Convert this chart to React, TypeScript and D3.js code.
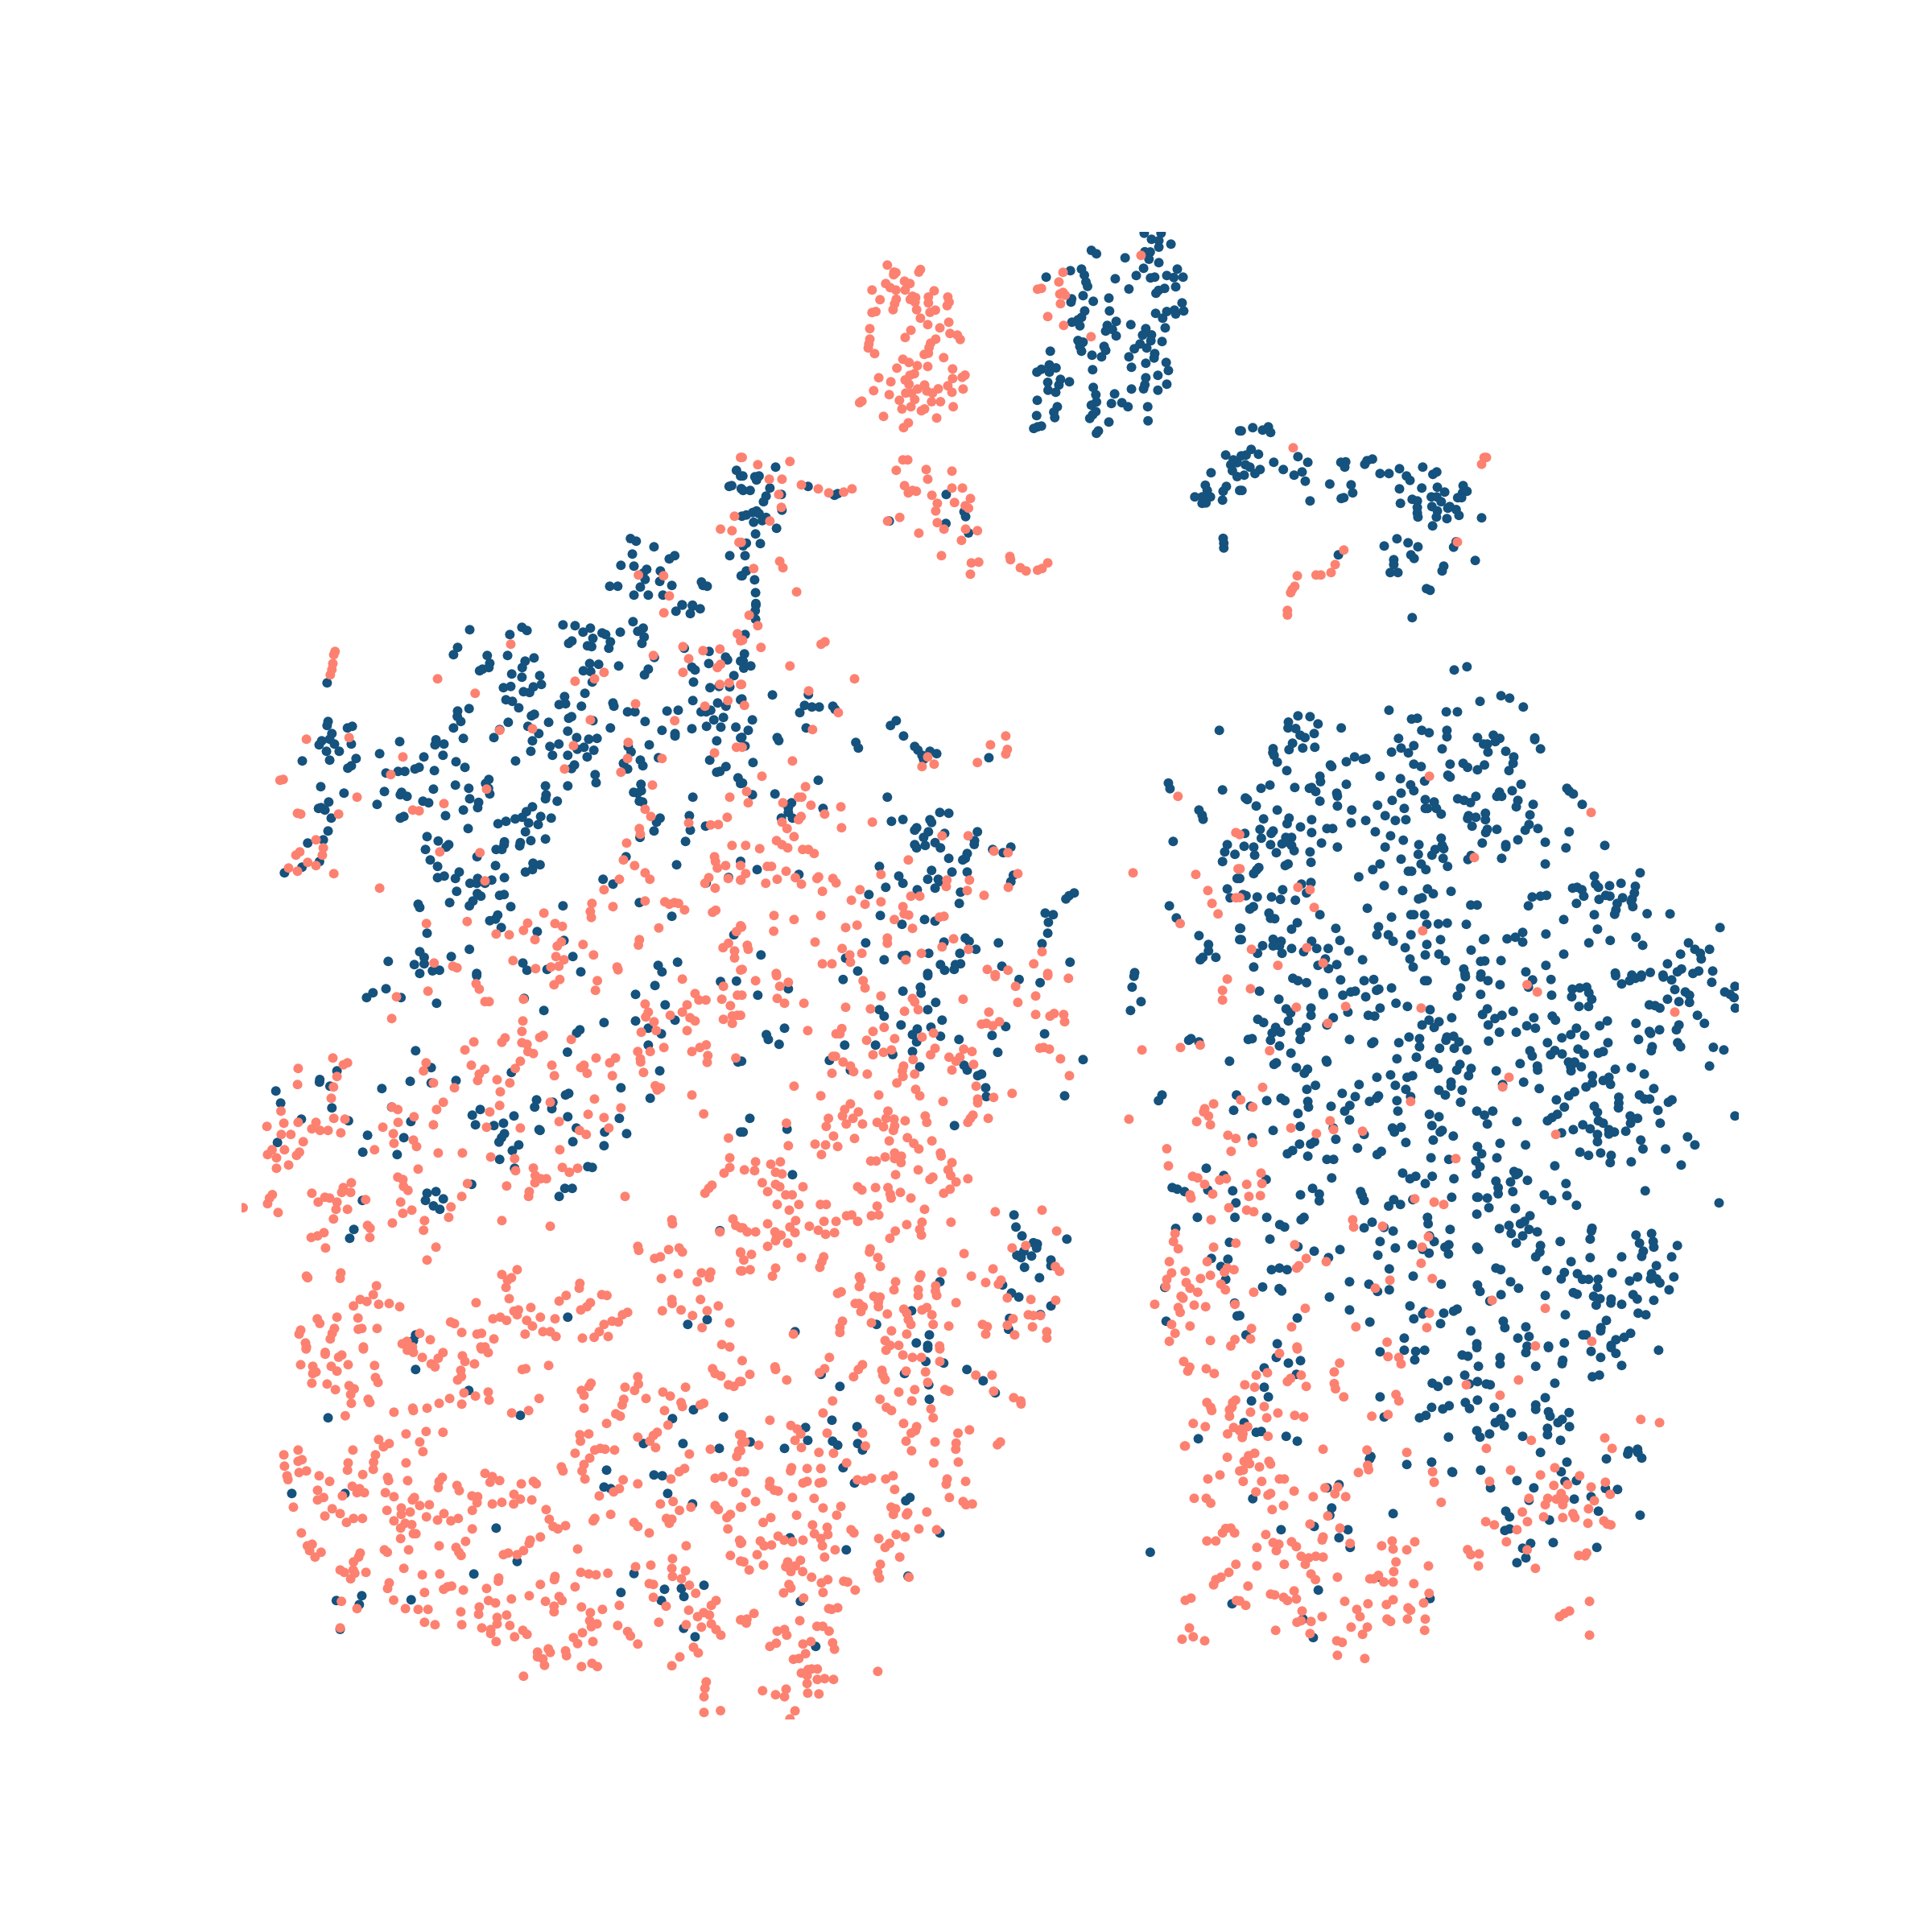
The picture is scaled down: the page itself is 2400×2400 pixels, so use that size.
import React, { useEffect, useRef } from "react";
import * as d3 from "d3";

// points, one list per panel of a 3x4 grid, in panel units (0-1568, 0-1386)
const panelCols = [300, 920, 1540];
const panelRows = [288, 750, 1212, 1674];

const navyA1 = [[1222,1143],[1240,1153],[1296,1174],[1228,1201],[1344,1219],[1361,1207],[1192,1243],[1233,1246],[1273,1258],[1262,1272],[1316,1264],[1268,1295],[1314,1303],[1157,1321],[1182,1321],[1253,1324],[1352,1318],[1445,1305],[1450,1318],[1463,1321],[1233,1354],[1278,1354],[1324,1354],[1384,1390],[1417,1395],[1555,889],[1568,910],[1532,949],[1540,946],[1570,957],[1534,1207],[1572,1060],[1570,1282]];
const salmonA1 = [[1568,841],[1549,1060],[1505,1108],[1541,1114],[1563,1157],[1247,1279],[1326,1282],[1344,1357]];

const navyA2 = [[1102,69],[1118,82],[1208,97],[1268,5],[1321,5],[1291,28],[1314,33],[1314,57],[1352,46],[1270,74],[1287,75],[1283,102],[1314,115],[1266,136],[1243,163],[1036,145],[1071,139],[1080,161],[960,169],[1177,175],[1288,172],[1301,169],[1339,163],[1361,170],[1372,139],[1390,169],[1085,187],[1090,203],[1220,213],[1332,211],[1367,205],[1313,218],[1305,229],[1076,238],[1157,247],[1040,250],[1038,262],[1108,259],[1387,265],[1081,295],[1159,295],[1339,297],[1363,292],[1392,295],[1367,306],[1304,304],[1326,322],[1071,319],[1060,328],[1041,337],[1066,350],[1180,334],[1152,349],[1226,346],[1273,361],[1334,358],[1147,370],[1168,364],[1180,388],[1263,385],[1291,384],[1060,405],[1076,411],[1289,406],[1324,409],[1066,427],[1071,445],[1142,427],[1147,442],[1255,418],[1237,436],[1276,433],[973,445],[1104,460],[1134,466],[1220,466],[1301,454],[1299,470],[1337,487],[1273,490],[970,496],[991,507],[945,512],[931,523],[970,523],[1228,505],[1106,514],[1344,517],[1311,535],[1273,544],[1005,550],[965,561],[1033,559],[1000,571],[1270,570],[1339,568],[1266,585],[1108,580],[966,590],[990,598],[1228,586],[1311,590],[1116,607],[1175,604],[932,628],[1118,634],[1102,646],[1198,637],[1165,640],[1217,652],[1279,652],[995,652],[984,672],[1116,670],[1106,682],[930,685],[987,692],[1097,695],[1157,709],[1280,704],[945,724],[933,727],[921,733],[1124,742],[1118,751],[110,877],[7,910],[45,913],[58,910],[50,925],[92,955],[8,964],[30,964],[80,985],[72,1006],[212,949],[128,979],[295,982],[305,976],[130,1037],[18,1055],[38,1046],[50,1040],[58,1050],[80,1064],[68,1076],[41,1082],[113,1105],[47,1126],[18,1160],[8,1170],[62,1162],[14,1207],[18,1264],[5,1282],[44,1297],[47,1345],[48,1385],[646,979],[702,1043],[707,1061],[645,1087],[467,1078],[716,1122],[1568,742],[1524,832],[1548,850],[1560,860],[1540,868],[1478,898],[1545,890],[1560,912],[1460,944],[1526,949],[1516,967],[1568,964],[1466,964],[1427,988],[1450,988],[1476,988],[1514,1000],[1450,1012],[1462,1010],[1516,1142],[1518,1160],[1518,1178]];
const salmonA2 = [[461,124],[482,150],[488,152],[481,160],[565,140],[560,150],[515,184],[532,193],[456,193],[470,208],[488,217],[517,217],[413,217],[608,220],[438,253],[489,251],[484,268],[479,290],[540,240],[550,245],[533,252],[548,262],[553,290],[590,243],[590,265],[651,243],[655,262],[649,275],[595,300],[612,292],[425,297],[413,301],[565,322],[588,346],[654,337],[626,358],[406,361],[535,367],[517,394],[658,379],[681,385],[690,401],[613,400],[597,415],[592,432],[406,400],[403,418],[401,433],[421,454],[590,452],[577,457],[638,469],[510,475],[529,487],[555,499],[588,502],[491,508],[666,511],[546,529],[532,535],[434,544],[472,559],[517,552],[529,568],[666,547],[696,542],[705,534],[578,571],[651,574],[556,586],[585,593],[621,585],[699,586],[418,592],[519,601],[537,601],[603,601],[664,598],[467,607],[499,628],[547,625],[600,633],[628,633],[381,631],[374,637],[507,660],[535,652],[668,652],[578,660],[568,667],[449,688],[616,694],[527,712],[512,730],[1013,151],[1000,187],[945,211],[933,214],[1258,88],[1013,226],[1003,232],[1020,236],[1005,268],[965,316],[1015,349],[1101,391],[5,841],[54,868],[155,856],[90,922],[130,922],[191,943],[120,979],[244,958],[277,973],[324,970],[350,958],[128,1027],[92,1078],[2,1157],[123,1228],[133,1252],[41,1255],[176,1342],[510,850],[525,850],[489,889],[583,886],[664,892],[588,922],[515,946],[540,964],[552,967],[527,973],[664,955],[697,955],[601,982],[722,994],[618,1012],[672,1009],[706,1021],[716,1030],[613,1040],[462,1078],[500,1064],[618,1084],[639,1108],[707,1108],[744,1114],[560,1123],[694,1150],[631,1207],[725,1234],[748,1231],[722,1276],[846,1210],[848,1222],[879,1252],[897,1264],[933,1261],[947,1255],[965,1234]];

const navyA3 = [[5,742],[41,730],[72,739],[90,727],[97,748],[36,811],[59,829],[5,835],[20,832],[107,859],[183,838],[214,859],[137,886],[18,868],[32,877],[64,886],[48,901],[14,907],[196,895],[171,907],[206,929],[7,964],[221,1003],[318,859],[333,857],[330,877],[393,866],[400,853],[417,847],[283,940],[350,943],[355,973],[327,991],[319,994],[441,901],[469,901],[502,883],[575,877],[524,910],[535,926],[619,895],[607,904],[502,958],[572,955],[621,952],[644,970],[702,946],[714,967],[700,973],[697,991],[685,991],[602,988],[619,988],[633,1006],[542,997],[558,1003],[505,1012],[558,1027],[604,1024],[660,1024],[654,1030],[680,1035],[621,1040],[558,1048],[560,1063],[618,1063],[651,1069],[689,1057],[760,1066],[606,1096],[494,1144],[529,1159],[454,1171],[560,1174],[672,1175],[680,1155],[310,1204],[538,1204],[548,1217],[484,1222],[484,1240],[473,1270],[497,1270],[641,1246],[636,1264],[740,1225],[587,1330],[598,1336]];
const salmonA3 = [[168,805],[775,841],[768,841],[760,866],[684,1156],[327,1186],[300,1240],[287,1270],[181,1282],[240,1279],[255,1279],[173,1321],[165,1333],[160,1345]];

const navyB1 = [[1385,5],[1417,5],[1365,28],[1410,37],[1441,19],[717,97],[843,115],[881,88],[897,100],[1010,79],[1048,82],[1073,106],[1096,91],[1133,109],[1144,115],[1190,106],[1230,67],[1262,91],[1245,103],[1265,124],[1104,129],[1159,142],[1258,148],[1154,166],[1087,157],[1100,160],[1028,148],[1038,139],[1391,166],[1469,178],[1297,200],[1468,223],[1521,199],[1527,209],[1568,214],[679,163],[666,190],[772,193],[836,193],[919,202],[891,214],[780,222],[882,238],[748,250],[757,244],[777,238],[1094,223],[1122,226],[1185,232],[1074,250],[1097,253],[1278,244],[1266,265],[1415,236],[1425,247],[849,262],[881,274],[937,268],[1547,268],[1102,292],[1420,292],[823,313],[846,308],[917,310],[942,301],[886,328],[905,331],[1472,313],[1500,308],[1534,310],[1079,334],[1015,346],[831,358],[851,364],[1418,361],[1568,358],[1167,370],[1170,382],[998,376],[1018,373],[1068,382],[871,388],[679,400],[715,391],[1496,370],[1522,382],[678,420],[1337,400],[1372,397],[1213,403],[1236,403],[1444,403],[1460,403],[1474,397],[911,418],[920,412],[689,439],[1028,427],[1037,421],[1104,436],[1268,439],[1484,433],[1514,424],[838,442],[965,442],[900,457],[1461,457],[1506,460],[1553,460],[666,463],[811,469],[1025,475],[1159,463],[1321,472],[1415,466],[1362,484],[1362,493],[934,484],[697,502],[793,499],[1053,499],[1091,505],[1117,502],[1568,500],[914,511],[1493,511],[497,514],[611,507],[608,526],[636,523],[969,532],[997,523],[1215,532],[1281,526],[1224,552],[1055,542],[1076,535],[1107,546],[909,550],[977,565],[1025,565],[1086,571],[434,559],[573,571],[633,565],[1310,574],[861,586],[1253,583],[1471,583],[674,589],[702,610],[1200,595],[1046,601],[1037,614],[1261,604],[1213,616],[1522,607],[1503,625],[1493,628],[545,616],[558,610],[606,622],[454,631],[492,625],[513,625],[1111,637],[1114,667],[1560,649],[1568,670],[955,679],[1025,679],[1255,673],[672,676],[714,688],[777,655],[767,670],[776,688],[603,691],[449,700],[503,703],[499,712],[520,718],[1256,697],[1232,703],[1244,706],[780,709],[957,712],[955,727],[717,727],[1418,721],[745,740],[570,736],[588,742],[992,736],[1250,736],[1260,739],[426,748],[742,760],[914,757],[697,769],[895,775],[1315,799],[1304,814],[1407,790],[641,790],[882,796],[860,802],[940,793],[973,799],[510,793],[499,799],[831,811],[806,820],[902,817],[932,823],[1458,829],[712,838],[1296,847],[1410,844],[892,850],[583,868],[1252,871],[618,884],[955,877],[909,883],[1395,886],[651,898],[643,907],[826,887],[825,898],[876,890],[874,902],[578,916],[800,916],[818,916],[740,943],[593,955],[1208,943],[1367,973],[1568,960],[798,976],[616,979],[916,967],[938,973],[914,991],[892,1000],[684,1000],[616,1021],[637,1015],[672,1024],[826,1021],[786,1030],[718,1042],[739,1042],[742,1024],[765,1042],[1136,1027],[1167,1045],[1530,1020],[1460,1040],[676,1072],[741,1080],[752,1090],[811,1087],[825,1084],[727,1108],[716,1126],[654,1114],[555,1120],[560,1132],[846,1129],[1250,1114],[1010,1126],[1352,1165],[805,1160],[798,1175],[780,1181],[816,1207],[583,1228],[929,1222],[1547,1234],[1013,1255],[716,1288],[560,1297],[574,1318],[659,1315],[461,1333],[1041,1315],[543,1345],[574,1342],[884,1339],[1309,1348],[1370,1336],[600,1368],[622,1366],[897,1366],[960,1363],[1066,1372],[1321,1372],[560,1378],[739,1378],[191,586],[249,682],[322,706],[274,739],[242,763],[250,760],[262,769],[282,799],[272,847],[257,880],[208,892],[245,961],[190,982],[135,1003],[269,295],[272,439],[269,454],[333,463],[348,457],[284,484],[252,511],[277,505],[244,526],[292,523],[345,523],[267,550],[307,550],[277,583],[360,577],[345,604],[334,613]];
const salmonB1 = [[1327,34],[846,151],[1387,160],[1450,175],[1503,169],[1294,193],[1405,205],[1558,112],[1568,138],[1505,226],[1495,238],[1387,256],[1139,256],[616,280],[1109,280],[1048,289],[1503,301],[1532,295],[1568,301],[734,334],[1528,361],[1238,373],[1456,382],[1096,433],[1361,436],[914,466],[811,472],[338,499],[204,505],[1215,517],[1555,535],[1043,529],[1486,556],[507,571],[1321,577],[1213,577],[1015,616],[1192,628],[469,637],[121,658],[131,655],[1291,676],[770,691],[363,721],[1534,721],[636,745],[538,769],[558,772],[1268,766],[176,781],[186,784],[305,784],[1286,793],[1526,796],[1405,817],[1474,824],[1498,823],[1250,838],[1253,859],[234,880],[1210,892],[1541,901],[257,910],[183,925],[171,937],[254,937],[623,925],[749,928],[1486,943],[1489,961],[1200,955],[208,964],[1521,976],[234,976],[1495,985],[1568,976],[148,985],[176,997],[1235,976],[1268,1003],[290,1006],[1283,1027],[1187,1027],[1468,1021],[1529,1024],[1568,1030],[1456,1042],[434,1060],[1139,1066],[765,1033],[1488,1060],[1268,1108],[1330,1111],[1344,1120],[1360,1114],[1373,1117],[1392,1141],[1101,1117],[1167,1129],[1096,1147],[1099,1169],[1490,1142],[1480,1150],[950,1153],[709,1184],[581,1192],[899,1190],[985,1192],[1008,1202],[1311,1208],[886,1217],[800,1231],[841,1234],[1568,1200],[1555,1222],[922,1252],[1250,1252],[1005,1260],[992,1276],[1247,1272],[1073,1270],[1530,1265],[1513,1282],[1549,1294],[1549,1320],[1106,1309],[988,1315],[1013,1327],[853,1330],[605,1339],[664,1351],[677,1357],[924,1360],[972,1354],[997,1351],[1180,1354],[1183,1364],[1568,1365],[294,178],[290,190],[287,223],[284,245],[279,265]];

const navyB2 = [[48,5],[46,26],[47,58],[14,115],[12,187],[8,214],[10,240],[32,232],[100,340],[213,338],[4,355],[201,379],[224,385],[247,385],[290,382],[297,394],[186,406],[37,433],[24,472],[206,463],[4,498],[115,499],[120,510],[14,530],[362,517],[370,538],[489,436],[471,454],[512,493],[547,532],[557,545],[595,550],[616,559],[570,565],[575,580],[780,574],[39,592],[244,658],[6,668],[37,712],[108,709],[461,721],[160,742],[150,760],[150,778],[163,799],[128,799],[259,763],[626,778],[654,781],[474,811],[510,804],[595,805],[600,815],[553,835],[547,844],[641,856],[590,850],[744,850],[575,871],[735,883],[734,897],[611,890],[547,898],[580,901],[553,910],[628,910],[792,916],[849,907],[825,928],[712,931],[654,949],[706,949],[698,955],[436,979],[600,994],[664,1000],[712,1000],[52,991],[183,1009],[497,1015],[588,1027],[621,1027],[625,1035],[510,1042],[857,1012],[849,1036],[456,1057],[555,1066],[611,1060],[403,1084],[691,1075],[1048,1078],[1032,1088],[1022,1100],[687,1117],[957,1153],[982,1159],[967,1187],[439,1162],[578,1177],[611,1183],[507,1195],[965,1228],[706,1246],[718,1258],[639,1261],[393,1264],[810,1264],[947,1267],[739,1288],[64,1309],[689,1303],[508,1312],[520,1310],[591,1303],[330,1321],[451,1327],[628,1345],[691,1342],[675,1345],[1035,1336],[821,1351],[368,1369],[641,1366],[671,1363],[588,1378],[1238,1375],[1347,1126],[1369,1171],[1440,1237],[1470,1270],[1470,1294],[1493,1318],[1452,1318],[1444,1327],[1344,668],[1349,689],[1514,694],[1504,472],[1440,769],[1450,788],[1453,803],[1359,886],[1529,898],[1521,925],[1553,934],[1514,961],[1560,1024],[1529,1063],[1538,1096],[1568,1210],[1568,1252]];
const salmonB2 = [[27,43],[54,82],[6,136],[265,142],[253,151],[64,163],[155,232],[358,280],[3,301],[214,325],[12,379],[307,406],[226,469],[5,535],[833,493],[785,526],[838,543],[833,560],[588,571],[570,607],[608,598],[744,592],[163,586],[67,643],[204,682],[182,721],[192,721],[19,700],[133,742],[24,742],[221,751],[315,757],[264,784],[190,793],[182,805],[130,814],[146,838],[317,835],[414,814],[168,868],[633,865],[715,865],[113,883],[130,898],[148,910],[16,901],[60,913],[195,916],[213,916],[231,931],[796,922],[840,928],[527,955],[84,979],[97,979],[143,997],[16,1006],[1,1030],[441,1009],[871,1006],[172,1021],[115,1027],[245,1018],[240,1024],[290,1024],[300,1040],[79,1042],[191,1045],[719,1030],[648,1030],[646,1054],[375,1066],[257,1072],[841,1057],[712,1069],[765,1087],[535,1090],[563,1090],[348,1105],[441,1111],[391,1120],[510,1129],[514,1156],[528,1160],[105,1162],[252,1162],[168,1177],[483,1177],[625,1168],[639,1165],[366,1198],[330,1207],[540,1210],[3,1205],[104,1220],[461,1246],[461,1265],[669,1249],[234,1261],[21,1273],[24,1288],[319,1285],[633,1279],[716,1288],[381,1303],[343,1309],[568,1303],[947,1297],[519,1327],[345,1336],[257,1342],[287,1342],[921,1342],[840,1366],[775,1363],[5,1363],[112,1378],[800,1382],[965,1378],[1430,1009],[1233,1003],[1374,718],[1468,1069],[1481,1117],[1500,1156],[1381,1192],[1556,853],[1563,988],[1556,1096]];

const navyB3 = [[542,52],[714,235],[674,247],[821,343],[848,352],[755,364],[891,385],[469,397],[649,403],[684,403],[183,418],[221,421],[540,430],[558,427],[153,441],[246,448],[152,463],[176,465],[319,463],[572,472],[595,481],[651,472],[651,496],[234,484],[190,490],[205,499],[499,502],[747,499],[797,490],[817,502],[803,514],[927,500],[927,506],[166,520],[766,523],[778,523],[547,529],[105,540],[155,544],[198,538],[236,535],[507,538],[636,541],[945,541],[477,553],[530,556],[104,555],[108,565],[780,553],[836,550],[118,590],[361,571],[335,589],[388,580],[396,577],[861,571],[859,595],[285,601],[289,607],[547,598],[570,607],[661,598],[702,595],[716,610],[747,619],[769,601],[148,622],[846,622],[441,643],[252,643],[505,652],[654,639],[661,646],[254,663],[581,661],[335,673],[537,675],[884,673],[95,676],[67,688],[173,685],[219,688],[226,685],[239,700],[547,697],[856,697],[1028,688],[1035,698],[1048,709],[305,706],[307,717],[507,706],[816,702],[808,718],[823,718],[742,718],[18,724],[24,730],[685,727],[705,733],[725,741],[583,730],[611,739],[479,733],[874,733],[252,736],[52,754],[307,754],[922,748],[869,757],[1076,748],[433,751],[517,763],[583,763],[590,763],[618,763],[118,769],[352,769],[633,784],[772,781],[912,787],[457,790],[719,790],[742,796],[716,800],[772,805],[75,802],[155,799],[226,805],[489,808],[522,805],[396,808],[149,820],[350,817],[909,823],[730,829],[191,832],[274,838],[292,838],[64,841],[105,847],[99,856],[426,850],[778,841],[808,841],[937,838],[897,844],[773,853],[226,853],[1035,850],[16,856],[474,865],[145,871],[163,871],[68,874],[633,874],[874,880],[514,881],[960,889],[762,892],[257,892],[97,898],[133,895],[155,890],[563,898],[836,898],[836,906],[1147,901],[14,904],[44,907],[163,901],[307,907],[636,901],[457,907],[614,916],[641,913],[1025,910],[171,920],[221,925],[115,928],[47,937],[561,934],[604,937],[727,938],[507,952],[639,949],[823,949],[717,953],[224,964],[152,970],[143,976],[441,970],[570,970],[653,979],[960,970],[60,983],[53,992],[44,1006],[418,991],[585,991],[530,997],[540,997],[374,1018],[0,1024],[1114,1015],[1258,1003],[224,1039],[194,1045],[454,1051],[1118,1045],[1127,1057],[1162,1051],[1198,1042],[1046,1060],[1060,1057],[1075,1066],[1243,1053],[590,1063],[135,1066],[512,1069],[664,1072],[608,1081],[210,1078],[10,1084],[20,1088],[1081,1090],[1240,1078],[964,1087],[945,1090],[919,1093],[55,1093],[100,1093],[1150,1087],[1163,1090],[128,1102],[175,1105],[1129,1102],[1203,1096],[1233,1100],[573,1096],[562,1100],[1058,1117],[1186,1117],[1230,1110],[726,1123],[746,1123],[907,1126],[1235,1129],[43,1129],[32,1138],[401,1135],[1182,1141],[92,1153],[252,1159],[538,1159],[547,1159],[581,1159],[1114,1159],[1178,1157],[1280,1155],[1352,1156],[97,1172],[110,1174],[477,1168],[1018,1177],[181,1189],[588,1195],[624,1193],[652,1190],[712,1195],[436,1204],[3,1210],[163,1213],[302,1210],[1124,1213],[1509,1207],[431,1234],[467,1234],[538,1234],[962,1231],[889,1225],[866,1243],[840,1249],[889,1261],[770,1249],[766,1252],[5,1252],[226,1258],[315,1255],[631,1252],[1164,1255],[105,1250],[130,1258],[482,1258],[1245,1243],[1097,1264],[105,1275],[125,1275],[588,1270],[72,1274],[1266,1273],[1410,1264],[163,1285],[242,1285],[278,1285],[520,1282],[1430,1288],[1476,1288],[343,1294],[201,1297],[727,1291],[56,1303],[133,1303],[1447,1303],[583,1309],[626,1306],[1018,1306],[1385,1306],[269,1324],[386,1327],[535,1324],[646,1330],[757,1333],[770,1331],[821,1330],[1450,1324],[246,1348],[305,1345],[44,1354],[545,1354],[962,1348],[1344,1342],[279,1360],[704,1361],[899,1372],[1486,1369],[1388,1361],[1375,1372],[1442,1369],[1180,1376],[1290,1374],[1232,1384],[1262,1384],[1424,1378],[1330,1384],[708,1380],[758,1380]];
const salmonB3 = [[150,25],[150,42],[596,643],[1104,778],[737,946],[0,860],[1,988],[183,1057],[221,1066],[234,1132],[575,1219],[211,1282],[37,1288],[120,1348],[262,1339],[0,1095]];

const navyC1 = [[454,49],[413,64],[393,82],[501,82],[613,103],[739,0],[888,85],[1299,37],[1238,70],[1505,22],[1555,20],[950,130],[1331,109],[1139,175],[1238,169],[1362,166],[1278,196],[1319,217],[1063,202],[1053,214],[1024,285],[547,280],[1278,259],[596,343],[300,355],[848,361],[1314,355],[246,387],[245,397],[530,394],[278,412],[441,421],[596,400],[674,391],[108,430],[1192,418],[123,475],[1284,457],[927,463],[921,490],[975,496],[978,472],[1018,445],[1028,439],[472,490],[284,493],[750,499],[725,520],[856,523],[1025,526],[188,535],[336,541],[532,544],[735,556],[793,559],[823,550],[1187,532],[1052,568],[935,574],[938,577],[826,589],[1141,583],[396,595],[817,604],[809,620],[510,604],[1210,589],[113,622],[871,631],[1041,619],[1139,634],[851,652],[381,658],[489,667],[811,685],[858,718],[1088,712],[1102,715],[723,778],[1016,793],[1039,793],[583,811],[611,805],[634,832],[578,838],[380,838],[603,858],[623,871],[998,823],[353,946],[340,979],[1503,950],[1568,583],[1560,322],[1025,1273],[1463,1282],[1402,1300],[547,1339],[540,1360]];
const salmonC1 = [[737,30],[747,50],[1000,14],[982,34],[1118,19],[1112,55],[586,58],[487,79],[1385,13],[1514,40],[1425,67],[1509,88],[1558,73],[1437,91],[1459,91],[765,97],[778,97],[886,88],[1400,109],[1268,106],[1536,112],[1278,136],[1385,136],[1270,154],[1347,148],[1409,157],[1296,172],[1425,169],[1514,163],[1542,150],[1558,148],[1542,178],[472,160],[884,169],[1400,205],[1256,211],[1303,205],[881,208],[948,223],[937,230],[1036,238],[828,232],[818,248],[730,247],[702,277],[881,250],[897,256],[900,283],[917,290],[1327,268],[1245,283],[1284,283],[1415,283],[1440,268],[1460,258],[1465,298],[1463,323],[1253,310],[1254,322],[1553,307],[287,307],[333,325],[320,332],[1114,307],[1175,307],[1157,325],[876,319],[722,334],[975,334],[1076,334],[1066,343],[580,325],[572,355],[764,349],[860,346],[178,346],[1086,364],[747,367],[1263,361],[300,376],[983,373],[1165,373],[742,391],[803,388],[843,400],[603,400],[176,406],[289,415],[669,418],[1300,410],[1316,418],[1306,426],[813,433],[282,457],[1415,445],[634,472],[1109,460],[970,472],[811,484],[124,505],[473,490],[491,499],[613,499],[1192,493],[1089,517],[780,508],[1452,515],[290,532],[325,535],[542,526],[1139,529],[234,547],[133,550],[178,547],[492,547],[998,544],[603,556],[80,562],[221,571],[247,577],[272,577],[444,565],[770,565],[876,568],[1154,568],[1062,577],[312,586],[477,589],[125,592],[155,592],[1083,592],[540,613],[1530,605],[194,619],[479,625],[550,637],[96,649],[135,649],[418,649],[1000,649],[182,658],[173,670],[82,667],[110,679],[618,661],[694,661],[783,676],[858,682],[1534,679],[110,718],[148,706],[555,721],[917,717],[1008,715],[1534,715],[861,727],[1056,718],[1030,733],[1516,736],[491,751],[923,745],[507,760],[345,772],[940,757],[958,757],[922,772],[710,775],[509,785],[523,800],[320,790],[833,784],[1478,781],[1468,793],[221,811],[315,808],[343,808],[1456,811],[97,816],[88,829],[262,826],[277,829],[904,805],[902,823],[390,835],[692,823],[82,850],[241,844],[300,844],[500,844],[1205,823],[5,865],[658,862],[297,871],[333,871],[535,874],[115,883],[507,886],[289,907],[651,901],[575,913],[474,922],[818,913],[1352,910],[1354,925],[396,931],[404,941],[970,934],[1544,907],[1553,931],[1568,940],[572,949],[1503,955],[259,958],[239,970],[219,976],[403,976],[264,1015],[611,1012],[583,1060],[1245,1009],[1248,1024],[1342,1021],[1375,1015],[1385,1030],[1316,1048],[1298,1054],[1568,1033],[866,1096],[204,1120],[208,1126],[312,1108],[310,1128],[818,1114],[848,1126],[1372,1111],[1445,1108],[1474,1105],[1319,1129],[1470,1126],[1432,1141],[424,1156],[836,1135],[831,1162],[1063,1147],[1061,1165],[1568,1100],[414,1189],[1020,1192],[1132,1189],[1148,1192],[373,1207],[394,1214],[431,1225],[464,1222],[352,1231],[497,1234],[737,1219],[841,1204],[998,1213],[1096,1219],[1085,1234],[1066,1246],[1352,1207],[1353,1222],[1442,1207],[1498,1231],[909,1237],[870,1246],[856,1250],[866,1264],[1322,1249],[1381,1246],[1463,1249],[1213,1255],[1197,1264],[300,1273],[366,1276],[238,1279],[246,1296],[790,1279],[813,1273],[833,1285],[896,1285],[939,1273],[985,1279],[1417,1267],[1164,1288],[1184,1291],[657,1291],[669,1297],[1534,1294],[1139,1300],[292,1315],[914,1306],[186,1321],[378,1315],[367,1318],[426,1315],[1447,1312],[285,1333],[181,1336],[692,1330],[740,1336],[754,1333],[560,1333],[891,1336],[947,1327],[970,1327],[1124,1327],[988,1345],[1108,1348],[1152,1345],[279,1354],[593,1357],[793,1354],[1071,1351],[201,1369],[520,1363],[505,1372],[383,1384],[537,1384],[1509,1375],[765,1384],[752,1384],[1534,1384],[204,1384]];

const navyC2 = [[322,14],[588,0],[875,14],[941,26],[1236,2],[1230,43],[54,73],[150,49],[510,58],[565,43],[567,65],[613,100],[1258,97],[436,127],[588,127],[451,151],[1225,130],[633,166],[504,184],[598,192],[138,196],[833,190],[555,199],[81,220],[540,220],[628,226],[87,238],[790,223],[955,217],[553,247],[686,238],[327,259],[121,256],[424,259],[1408,241],[1415,235],[1440,247],[540,283],[478,294],[808,286],[279,316],[1076,313],[3,319],[1536,319],[702,334],[712,352],[563,340],[345,352],[745,373],[757,367],[770,418],[772,451],[1018,448],[1324,445],[1313,466],[1558,445],[1549,502],[29,532],[146,572],[672,559],[8,583],[163,742],[1463,718],[1518,745],[1356,790],[1372,796],[1395,805],[1468,799],[1546,802],[1556,847],[859,892],[1435,901],[1553,901],[865,937],[1367,942],[884,970],[920,995],[932,1000],[930,1015],[1025,982],[1536,994],[890,1027],[868,1042],[881,1051],[914,1045],[975,1060],[975,1081],[1479,1054],[1531,1057],[1509,1084],[892,1087],[939,1126],[626,1141],[1524,1132],[823,1153],[851,1183],[874,1198],[1333,1162],[975,1231],[1552,1220],[537,1249],[942,1263],[845,1277],[1560,1268],[1337,1288],[427,1300],[842,1318],[593,1339],[171,1327],[552,1369],[588,1378]];
const salmonC2 = [[47,19],[113,0],[150,25],[123,40],[115,85],[138,103],[199,103],[4,73],[385,19],[391,46],[441,76],[540,85],[547,98],[558,127],[330,118],[408,124],[515,133],[800,3],[864,40],[965,0],[1030,10],[927,76],[871,100],[699,88],[1529,13],[1514,55],[1514,91],[780,136],[927,145],[985,141],[972,151],[1015,145],[1018,172],[813,172],[757,181],[772,178],[792,187],[0,148],[451,193],[211,205],[416,208],[318,197],[300,217],[312,217],[606,214],[396,241],[484,235],[570,229],[611,271],[701,274],[727,283],[940,270],[952,268],[970,274],[1382,268],[1444,259],[1261,277],[449,286],[474,277],[416,295],[597,295],[290,301],[298,301],[655,304],[689,304],[677,319],[1005,310],[542,313],[322,322],[345,337],[355,358],[732,331],[512,337],[508,355],[547,367],[664,352],[287,364],[398,367],[1033,373],[510,376],[491,400],[740,412],[168,412],[550,424],[853,439],[563,448],[434,445],[252,448],[795,454],[745,460],[745,474],[636,469],[1486,478],[1458,496],[345,478],[327,499],[463,505],[1455,508],[370,508],[1470,523],[320,523],[730,520],[722,532],[714,547],[778,532],[276,532],[353,532],[580,523],[517,541],[482,535],[457,532],[1220,535],[144,550],[429,547],[585,547],[332,553],[383,553],[449,563],[484,560],[269,562],[1433,544],[1476,556],[480,577],[1531,595],[1556,607],[292,598],[524,604],[358,607],[601,616],[467,616],[544,625],[234,628],[267,631],[305,637],[150,634],[560,646],[1339,645],[1541,655],[254,667],[628,661],[630,672],[484,661],[454,676],[505,673],[484,682],[409,691],[426,691],[47,694],[125,694],[95,703],[504,697],[664,697],[1344,709],[44,727],[12,724],[110,733],[130,739],[558,724],[652,724],[487,742],[660,745],[604,751],[595,760],[714,757],[1420,748],[1436,754],[1526,757],[1505,762],[68,772],[110,778],[123,787],[677,769],[1458,778],[196,787],[368,787],[381,799],[424,790],[463,790],[85,805],[658,796],[638,811],[1483,814],[502,808],[142,817],[162,817],[470,814],[473,829],[535,829],[1412,817],[1415,829],[115,853],[183,853],[251,853],[269,853],[429,859],[153,874],[578,871],[1534,865],[800,880],[947,874],[333,895],[349,892],[411,895],[434,892],[173,913],[262,916],[300,916],[368,916],[85,925],[570,919],[522,928],[661,919],[1478,910],[216,934],[155,937],[7,940],[21,955],[47,955],[244,949],[108,955],[171,958],[267,964],[295,958],[486,952],[563,946],[568,967],[993,952],[1365,961],[127,967],[113,976],[110,988],[469,979],[148,997],[1360,991],[1556,997],[85,1009],[896,1006],[853,1015],[407,1018],[405,1030],[1375,1018],[1486,1012],[34,1039],[0,1030],[10,1060],[702,1036],[191,1051],[431,1051],[261,1048],[255,1066],[1466,1066],[1347,1066],[439,1084],[249,1087],[989,1084],[110,1090],[30,1096],[5,1100],[793,1093],[1002,1102],[1550,1096],[1529,1090],[1520,1105],[1354,1108],[1397,1102],[100,1120],[633,1105],[566,1115],[562,1125],[725,1120],[1476,1117],[373,1122],[378,1135],[487,1141],[1445,1129],[818,1135],[770,1144],[810,1150],[1339,1132],[1400,1144],[1509,1150],[613,1156],[373,1159],[558,1170],[482,1171],[612,1175],[1336,1159],[1412,1165],[1523,1171],[316,1178],[305,1184],[558,1192],[616,1192],[1436,1180],[419,1195],[438,1198],[1384,1195],[1390,1202],[838,1201],[912,1207],[990,1210],[677,1219],[433,1216],[360,1222],[372,1222],[1301,1225],[1425,1228],[1553,1225],[385,1234],[433,1234],[1461,1234],[513,1243],[570,1246],[585,1237],[1375,1237],[378,1252],[461,1261],[522,1258],[601,1264],[904,1264],[920,1267],[942,1267],[1381,1255],[856,1279],[527,1282],[320,1288],[411,1294],[535,1300],[605,1300],[760,1300],[775,1308],[654,1306],[838,1303],[917,1309],[1354,1300],[1412,1306],[312,1311],[312,1330],[962,1327],[474,1324],[522,1336],[770,1336],[861,1339],[166,1336],[1365,1333],[962,1351],[454,1360],[1347,1363],[1476,1360],[1553,1356],[470,1378],[497,1378],[625,1380],[1540,1380]];

const navyC3 = [[167,10],[183,19],[210,26],[317,16],[391,19],[421,14],[581,19],[589,19],[709,4],[757,5],[780,19],[818,34],[920,16],[978,14],[907,43],[1045,50],[1068,46],[1090,43],[1097,64],[1043,79],[1106,88],[1066,115],[1096,115],[1181,0],[1200,31],[1225,19],[1243,10],[1261,5],[1331,5],[1357,16],[1367,52],[1400,61],[1413,73],[1344,88],[1380,97],[1413,100],[1483,25],[1524,61],[1541,70],[1553,82],[1556,40],[1557,121],[62,58],[123,88],[262,64],[263,71],[324,73],[349,61],[363,58],[396,79],[430,55],[437,50],[477,46],[694,46],[684,76],[757,70],[980,73],[491,103],[527,115],[441,121],[146,124],[160,139],[224,121],[224,148],[340,136],[294,157],[404,148],[424,151],[598,127],[1287,109],[1305,112],[1320,121],[1438,148],[1460,178],[763,145],[778,124],[824,148],[802,160],[859,133],[924,157],[982,151],[992,166],[57,163],[75,175],[153,169],[274,184],[595,166],[626,172],[666,157],[573,184],[611,193],[781,184],[902,187],[929,196],[1155,169],[1131,187],[1245,178],[1380,184],[1372,202],[113,193],[102,214],[128,211],[209,193],[190,211],[1058,196],[1040,220],[1084,223],[1012,232],[816,211],[869,211],[1287,208],[1291,215],[1319,202],[27,238],[39,235],[97,241],[190,238],[345,238],[415,253],[421,247],[532,229],[565,235],[651,229],[672,226],[648,241],[689,247],[782,244],[967,250],[1253,238],[1157,250],[500,250],[125,262],[565,265],[628,271],[674,271],[714,277],[1063,274],[990,279],[912,280],[1296,265],[1293,280],[1376,250],[1385,265],[1488,267],[1521,277],[161,289],[977,295],[1013,292],[1082,292],[1127,289],[1142,283],[919,299],[555,304],[494,310],[272,316],[274,322],[115,325],[108,331],[610,322],[598,331],[692,331],[1033,322],[1052,322],[881,328],[178,343],[213,349],[623,346],[727,346],[682,352],[935,337],[936,352],[1040,340],[1052,325],[1041,355],[1073,340],[1180,349],[1230,343],[1476,337],[203,364],[806,355],[1271,367],[474,370],[431,379],[543,373],[526,379],[719,373],[1108,373],[1160,379],[1142,391],[892,397],[1108,400],[1165,405],[375,406],[238,409],[489,409],[664,397],[664,412],[826,406],[1088,415],[211,424],[522,424],[626,427],[699,427],[941,421],[1301,421],[322,439],[1052,433],[1034,448],[436,448],[430,457],[363,451],[646,445],[537,451],[1256,445],[1191,453],[1272,460],[1288,460],[130,457],[142,466],[85,466],[214,469],[408,469],[494,466],[694,472],[995,463],[1191,475],[1358,463],[1347,472],[34,487],[216,490],[287,487],[346,484],[1020,490],[1114,487],[1190,493],[330,505],[183,514],[497,505],[745,505],[795,505],[1124,509],[1314,502],[596,517],[626,526],[769,520],[998,517],[981,529],[967,541],[1227,523],[1250,532],[1556,523],[345,538],[871,544],[1127,541],[1142,550],[1228,550],[1321,550],[778,553],[190,562],[604,559],[1078,556],[480,568],[507,565],[486,583],[105,577],[294,568],[1101,571],[636,577],[630,583],[1048,574],[1160,574],[1177,583],[1213,580],[1160,590],[1124,592],[1011,586],[671,598],[1407,601],[391,592],[302,610],[608,613],[1260,613],[1124,619],[1430,631],[522,622],[818,625],[898,631],[188,628],[235,619],[223,628],[39,604],[747,637],[1267,646],[1338,646],[166,652],[370,643],[150,664],[445,655],[432,667],[760,664],[1069,658],[1096,670],[1134,661],[1167,670],[214,673],[274,685],[295,685],[601,679],[657,685],[742,691],[808,679],[1164,697],[1230,694],[755,712],[990,709],[1387,706],[512,736],[744,739],[862,730],[875,736],[868,742],[553,748],[535,757],[605,748],[289,754],[673,757],[83,760],[904,763],[805,766],[851,769],[583,775],[1025,775],[812,790],[229,793],[1274,802],[380,805],[385,820],[250,814],[858,805],[812,813],[191,817],[957,817],[1028,820],[391,838],[250,839],[484,835],[505,853],[468,859],[544,835],[666,826],[745,826],[749,826],[778,829],[980,838],[1506,847],[1058,856],[866,868],[783,865],[745,889],[912,895],[85,901],[202,901],[193,910],[590,901],[592,925],[416,919],[126,928],[141,937],[391,940],[453,938],[482,952],[895,916],[882,925],[846,931],[661,946],[816,943],[909,946],[1107,941],[1105,951],[853,961],[935,955],[596,970],[889,970],[1245,967],[1294,961],[95,982],[441,991],[1007,991],[1101,982],[611,991],[869,997],[1256,997],[1299,991],[183,1010],[542,1003],[489,1015],[657,1003],[645,1012],[945,1006],[1301,1012],[1375,1006],[745,1012],[750,1020],[315,1021],[234,1027],[595,1034],[575,1020],[656,1037],[943,1030],[1268,1027],[1263,1046],[279,1051],[434,1042],[930,1048],[1101,1051],[1200,1048],[1357,1048],[1041,1066],[1309,1081],[100,1096],[125,1090],[149,1096],[470,1093],[805,1090],[820,1096],[965,1099],[1170,1108],[1020,1106],[1061,1111],[1294,1111],[545,1120],[1010,1130],[1250,1123],[1225,1138],[1291,1130],[1310,1130],[1364,1123],[1077,1132],[1096,1132],[1126,1132],[1320,1145],[633,1150],[345,1141],[406,1150],[851,1141],[747,1153],[72,1160],[124,1166],[132,1175],[470,1171],[433,1177],[876,1165],[1124,1162],[755,1177],[1349,1171],[282,1198],[821,1189],[1048,1181],[1060,1187],[960,1192],[1236,1189],[1112,1195],[1132,1204],[1249,1205],[1167,1205],[1166,1220],[786,1213],[1301,1210],[1120,1228],[1200,1225],[535,1231],[683,1243],[672,1250],[581,1252],[575,1261],[641,1258],[345,1246],[181,1276],[1252,1258],[1276,1264],[1023,1264],[547,1279],[1152,1285],[409,1291],[631,1297],[828,1288],[833,1312],[899,1309],[1135,1312],[1134,1324],[726,1324],[20,1339],[1078,1339],[1088,1339],[1228,1333],[909,1345],[874,1351],[1208,1348],[1182,1357],[517,1351],[118,1372],[745,1372],[1020,1369],[970,1381],[903,1381],[1167,1378],[0,1267]];
const salmonC3 = [[34,49],[178,118],[333,115],[570,121],[903,34],[935,61],[277,178],[94,280],[1367,136],[846,379],[826,415],[72,416],[3,463],[537,469],[41,490],[284,541],[295,574],[161,568],[386,580],[241,589],[41,622],[993,592],[679,682],[67,736],[70,775],[22,778],[29,823],[65,820],[22,874],[44,880],[550,832],[611,844],[641,853],[355,910],[358,937],[449,934],[593,973],[173,1003],[573,1012],[209,1054],[272,1066],[186,1081],[179,1090],[570,1072],[472,1135],[605,1129],[426,1165],[44,1180],[793,1210],[960,1240],[206,1240],[596,1258],[37,1315],[163,1309],[365,1309],[588,1312],[34,1354],[463,1366],[1106,1363],[180,1384],[929,1380]];

const navyD1 = [[547,82],[272,262],[714,160],[876,253],[1420,232],[1514,259],[1354,265],[1263,358],[1387,358],[1501,376],[158,544],[325,544],[1147,457],[1139,520],[1160,526],[1296,475],[1322,478],[1339,544],[1417,583],[800,673],[866,797],[730,844],[1233,842],[1329,901],[1382,898],[1453,886],[1192,913],[1390,928],[1319,943],[298,943],[378,925],[370,958],[533,940],[1389,1046],[1425,1078],[310,1050]];
const salmonD1 = [[203,5],[263,18],[263,25],[383,5],[315,28],[305,36],[186,64],[224,70],[234,91],[224,97],[282,70],[300,88],[335,64],[418,67],[521,10],[540,18],[568,37],[633,19],[618,40],[596,61],[608,72],[694,31],[702,52],[732,61],[754,5],[775,19],[965,67],[893,79],[882,82],[689,85],[691,108],[679,121],[421,112],[429,130],[221,133],[269,136],[295,157],[338,142],[354,154],[343,175],[398,193],[403,205],[345,208],[775,166],[699,169],[735,181],[778,196],[654,190],[621,208],[692,211],[538,226],[540,235],[583,226],[479,241],[326,254],[935,190],[902,235],[849,244],[1480,79],[1488,97],[1506,106],[1245,109],[1247,136],[1235,160],[1205,148],[1098,133],[1092,145],[1068,160],[1076,178],[1530,139],[1547,145],[1565,127],[1395,148],[1324,166],[1347,181],[1271,190],[1201,193],[1196,214],[1381,205],[1385,220],[1452,208],[1441,214],[1076,226],[1176,247],[1190,256],[1329,235],[1147,283],[1340,289],[517,322],[580,313],[633,316],[560,352],[431,343],[464,358],[446,370],[570,388],[1063,325],[1091,322],[1065,349],[1245,334],[1306,316],[1294,328],[1283,349],[1301,373],[1565,325],[1473,379],[178,382],[350,382],[133,400],[190,418],[178,424],[421,400],[415,427],[335,430],[1110,382],[1127,376],[1142,379],[1172,382],[1048,394],[1094,412],[1407,397],[1562,385],[1556,406],[135,442],[517,430],[1076,436],[1005,445],[1010,460],[1070,460],[1392,451],[1375,463],[333,457],[414,454],[204,460],[181,466],[381,473],[143,478],[146,492],[244,478],[459,484],[462,496],[1565,463],[277,499],[522,496],[631,484],[621,499],[765,469],[788,481],[811,496],[781,502],[917,499],[926,508],[879,508],[1079,490],[1199,493],[1349,490],[1488,487],[1512,481],[1544,502],[618,522],[677,514],[684,533],[1245,508],[348,517],[371,526],[239,532],[363,541],[386,541],[1187,526],[1169,538],[452,541],[479,556],[543,559],[537,568],[724,553],[742,556],[856,547],[258,559],[239,568],[317,553],[1124,553],[740,578],[876,565],[912,568],[788,583],[818,577],[855,583],[1356,574],[163,595],[560,589],[590,586],[1316,583],[1412,595],[1488,589],[1568,595],[285,601],[502,598],[957,604],[457,607],[725,607],[1376,607],[1498,604],[310,619],[530,613],[502,622],[262,628],[636,619],[1536,622],[1525,634],[581,631],[380,637],[352,637],[681,637],[616,643],[658,646],[967,640],[1160,622],[1110,637],[1105,646],[1335,637],[1352,640],[330,652],[479,646],[514,655],[535,660],[1233,652],[1018,664],[979,667],[1344,655],[500,673],[725,676],[994,676],[1245,667],[1528,676],[188,691],[540,694],[548,694],[1281,691],[500,712],[939,706],[907,718],[904,730],[704,722],[222,733],[207,739],[621,739],[1397,739],[1565,718],[1568,730],[214,757],[250,763],[449,754],[458,763],[525,754],[674,745],[886,757],[373,766],[1056,751],[838,766],[823,772],[866,772],[683,763],[690,775],[231,781],[368,781],[352,799],[1536,775],[1568,796],[1354,787],[1286,811],[510,823],[310,829],[323,838],[351,829],[356,841],[391,838],[1352,823],[1238,817],[1395,832],[568,847],[623,844],[343,862],[1066,838],[1091,844],[1114,847],[1151,841],[1354,853],[808,859],[807,871],[985,853],[983,865],[1382,862],[464,877],[939,883],[1281,880],[1294,883],[459,898],[660,889],[647,892],[635,901],[1048,892],[1407,886],[697,904],[770,898],[575,913],[1427,916],[904,925],[998,928],[1294,931],[848,937],[314,946],[478,941],[776,943],[798,952],[955,946],[1007,943],[1491,943],[982,964],[1476,961],[1187,961],[1068,967],[1334,964],[747,967],[363,973],[515,973],[555,976],[586,976],[1134,976],[1405,979],[982,985],[1096,988],[689,985],[745,994],[1452,988],[1470,997],[833,997],[1433,1003],[803,1006],[1568,1015],[1094,1018],[575,1024],[608,1033],[692,1033],[803,1030],[1311,1024],[1117,1030],[1099,1040],[1476,1030],[1397,1033],[843,1036],[1182,1036],[755,1045],[783,1051],[1445,1042],[310,1045],[1491,1051],[884,1054],[1213,1058],[783,1066],[1071,1063],[897,1069],[1222,1075],[1506,1072],[858,1078],[1043,1081],[800,1096],[1104,1096],[1056,1103],[1245,1105],[1420,1117],[1435,1138],[930,1135],[964,1123],[970,1136],[1018,1130],[1021,1148],[930,1153],[947,1160],[1377,1153],[952,1184],[1068,1189],[1101,1177],[1118,1189],[1352,1186],[886,1225],[1460,1246],[1456,1270],[1453,1301],[1453,1360],[1505,1353]];

const navyD2 = [[588,2],[582,52],[638,58],[711,82],[762,124],[515,97],[253,100],[312,145],[591,139],[800,169],[593,193],[287,271],[204,298],[366,295],[211,346],[289,349],[305,364],[368,358],[383,382],[138,376],[30,352],[322,448],[358,505],[532,559],[519,571],[626,691],[155,709],[332,754],[526,852],[188,946],[236,1114],[1287,763],[1438,340],[1544,955]];
const salmonD2 = [[5,49],[279,37],[108,72],[110,82],[29,100],[264,79],[248,94],[145,121],[2,127],[383,64],[370,82],[355,109],[444,85],[447,103],[454,119],[457,10],[510,28],[540,37],[568,37],[626,5],[626,52],[520,88],[581,91],[739,103],[790,103],[588,130],[497,166],[547,157],[642,157],[654,163],[795,163],[858,187],[880,199],[881,210],[438,193],[538,199],[289,199],[458,223],[474,235],[598,229],[605,262],[259,244],[92,271],[512,283],[158,290],[178,304],[189,322],[553,295],[549,310],[536,319],[383,319],[272,319],[683,319],[719,307],[3,325],[171,346],[14,352],[4,355],[57,364],[191,373],[520,349],[611,352],[677,356],[676,379],[392,367],[816,352],[807,362],[537,385],[246,391],[292,394],[0,385],[333,430],[607,430],[684,427],[160,448],[157,460],[209,451],[252,451],[12,463],[209,499],[196,505],[257,502],[247,505],[92,499],[91,517],[106,532],[118,535],[367,493],[390,496],[411,487],[456,490],[479,478],[649,490],[646,509],[707,499],[484,529],[17,541],[163,559],[231,562],[47,574],[656,559],[699,574],[708,586],[728,583],[315,592],[259,598],[3,595],[473,595],[487,601],[480,622],[525,616],[521,623],[585,613],[176,625],[302,625],[95,634],[71,652],[226,661],[272,670],[347,679],[356,691],[560,676],[616,679],[232,694],[274,697],[489,697],[118,703],[517,706],[434,712],[252,712],[62,721],[137,718],[163,724],[196,718],[3,727],[468,730],[74,739],[97,736],[257,739],[454,745],[297,754],[52,772],[264,781],[500,781],[148,799],[188,793],[10,799],[72,811],[172,814],[142,817],[439,808],[195,835],[158,835],[27,829],[431,838],[436,859],[529,856],[223,856],[274,865],[254,877],[324,871],[336,874],[152,883],[360,904],[158,896],[135,914],[259,913],[198,934],[277,973],[286,976],[305,970],[42,991],[20,1012],[3,1015],[18,1027],[186,1018],[240,1039],[258,1039],[278,1057],[115,1057],[138,1051],[145,1072],[289,1100],[295,1124],[112,1102],[92,1114],[196,1105],[221,1096],[204,1141],[183,1159],[166,1162],[431,1207],[223,1198],[241,1198],[212,1200],[191,1213],[209,1222],[241,1237],[264,1234],[292,1237],[209,1252],[69,1279],[143,1273],[110,1294],[138,1301],[211,1288],[246,1291],[171,1354],[155,1384],[1392,52],[1411,73],[1405,88],[1463,79],[1488,97],[1465,205],[1477,223],[1480,235],[1555,196],[1546,205],[1544,222],[1536,232],[1536,256],[1422,283],[1460,295],[1549,298],[1530,322],[1568,310],[1397,367],[1395,367],[1529,409],[1506,475],[1468,490],[1568,460],[1425,562],[1463,562],[1477,580],[1524,674],[1540,673],[1514,691],[1552,691],[1465,721],[1493,721],[1556,808],[1534,838],[1509,856],[1493,865],[1486,884],[1397,942],[1415,934],[1410,1045],[1422,1078],[1387,1087],[1458,1093],[1558,943]];

const navyD3 = [[441,16],[517,10],[553,14],[581,10],[550,46],[699,28],[717,32],[745,0],[818,37],[818,61],[899,19],[970,0],[1104,14],[1134,37],[1182,22],[1316,10],[1167,0],[1015,47],[1013,60],[930,70],[750,70],[1200,67],[1130,103],[1108,109],[115,37],[153,58],[191,49],[77,76],[178,100],[707,103],[605,133],[623,145],[654,124],[721,136],[747,127],[775,136],[787,139],[990,133],[77,148],[90,184],[441,184],[37,199],[747,196],[960,187],[709,205],[658,217],[603,223],[638,229],[722,227],[800,223],[930,214],[930,230],[853,244],[970,239],[975,256],[1035,242],[585,253],[565,262],[820,265],[454,259],[1013,268],[1000,280],[803,280],[831,292],[967,301],[1036,295],[745,310],[785,322],[967,325],[755,334],[52,316],[68,313],[146,331],[181,349],[14,280],[656,334],[889,331],[1008,346],[412,406],[408,415],[945,391],[1219,397],[1222,385],[1250,379],[1251,391],[1263,412],[1152,415],[525,436],[603,427],[1028,427],[667,463],[669,465],[757,457],[1010,463],[871,496],[1022,499],[1058,496],[312,511],[275,523],[924,523],[788,523],[1149,525],[1187,529],[41,563],[1104,556],[1051,565],[909,569],[289,598],[283,625],[482,619],[836,610],[848,631],[1127,610],[1258,625],[234,667],[973,643],[130,679],[340,679],[848,676],[833,682],[312,709],[985,727],[914,730],[347,745],[889,748],[1122,745],[899,784],[871,802],[435,855],[247,904],[598,935],[199,1012],[231,1081]];
const salmonD3 = [[125,22],[181,5],[466,34],[500,37],[507,61],[314,58],[297,91],[52,103],[87,94],[193,103],[160,115],[150,127],[16,139],[47,148],[209,145],[297,134],[301,154],[712,139],[876,121],[327,184],[491,175],[500,199],[818,178],[77,220],[34,241],[120,244],[173,253],[201,259],[85,262],[415,256],[466,250],[1260,268],[1319,280],[25,295],[5,304],[10,322],[8,335],[89,331],[1147,337],[916,346],[262,379],[400,382],[525,391],[775,376],[1170,376],[47,394],[28,403],[14,424],[31,433],[92,424],[97,434],[62,445],[11,457],[402,439],[405,455],[373,466],[851,457],[990,448],[606,463],[945,475],[1068,478],[69,499],[11,499],[125,490],[140,490],[611,502],[785,499],[1149,502],[987,514],[1030,511],[1104,520],[308,520],[268,523],[171,535],[51,538],[97,544],[89,550],[299,545],[333,556],[231,556],[1010,544],[1164,547],[968,562],[995,565],[1020,565],[909,562],[1015,586],[960,586],[1114,571],[633,577],[138,589],[102,604],[1096,601],[888,613],[1047,619],[1053,634],[955,631],[1015,634],[277,628],[1144,646],[773,649],[904,649],[800,661],[1094,655],[1155,658],[1166,661],[221,658],[315,673],[871,679],[262,706],[259,717],[82,697],[347,730],[105,727],[123,733],[163,724],[178,742],[838,724],[479,721],[550,724],[446,739],[54,745],[115,757],[482,751],[525,754],[716,753],[726,772],[752,769],[903,754],[1090,766],[1065,775],[1085,776],[193,778],[217,784],[239,778],[262,781],[206,808],[140,808],[54,814],[491,799],[593,814],[750,814],[929,823],[224,844],[238,865],[484,835],[307,856],[409,862],[421,862],[436,849],[453,874],[482,874],[547,880],[26,889],[97,919],[110,922],[171,907],[138,931],[150,943],[178,937],[595,916],[482,940],[330,946],[403,955],[461,958],[578,952],[1099,946],[19,961],[0,944],[529,970],[537,979],[368,976],[196,982],[378,1003],[259,1003],[463,1012],[474,1021],[527,1012],[583,1012],[1036,982],[1020,991],[1005,1003],[193,1018],[224,1021],[180,1024],[350,1042],[401,1042],[113,1054],[581,1054],[221,1066],[386,1069],[1099,1072],[305,1093],[322,1099],[307,1147],[393,1159]];

const navyPanels = [[navyA1, navyA2, navyA3], [navyB1, navyB2, navyB3], [navyC1, navyC2, navyC3], [navyD1, navyD2, navyD3]];
const salmonPanels = [[salmonA1, salmonA2, salmonA3], [salmonB1, salmonB2, salmonB3], [salmonC1, salmonC2, salmonC3], [salmonD1, salmonD2, salmonD3]];

function drawGroup(g: any, panels: number[][][][], color: string) {
  panels.forEach((row, r) => {
    row.forEach((points, c) => {
      const x = d3.scaleLinear().domain([0, 1568]).range([panelCols[c], panelCols[c] + 620]);
      const y = d3.scaleLinear().domain([0, 1386]).range([panelRows[r], panelRows[r] + 462]);
      g.selectAll(null)
        .data(points)
        .enter()
        .append("circle")
        .attr("cx", (d: number[]) => x(d[0]))
        .attr("cy", (d: number[]) => y(d[1]))
        .attr("r", 6)
        .attr("fill", color);
    });
  });
}

export default function App() {
  const ref = useRef<SVGSVGElement>(null);

  useEffect(() => {
    const svg = d3.select(ref.current);
    svg.selectAll("*").remove();

    svg.append("clipPath")
      .attr("id", "plot")
      .append("rect")
      .attr("x", 300)
      .attr("y", 288)
      .attr("width", 1860)
      .attr("height", 1848);

    const g = svg.append("g").attr("clip-path", "url(#plot)");
    drawGroup(g, navyPanels, "#15527d");
    drawGroup(g, salmonPanels, "#fd8170");
  }, []);

  return (
    <svg
      ref={ref}
      width={2400}
      height={2400}
      style={{ position: "absolute", left: 0, top: 0, background: "#fff" }}
    />
  );
}
